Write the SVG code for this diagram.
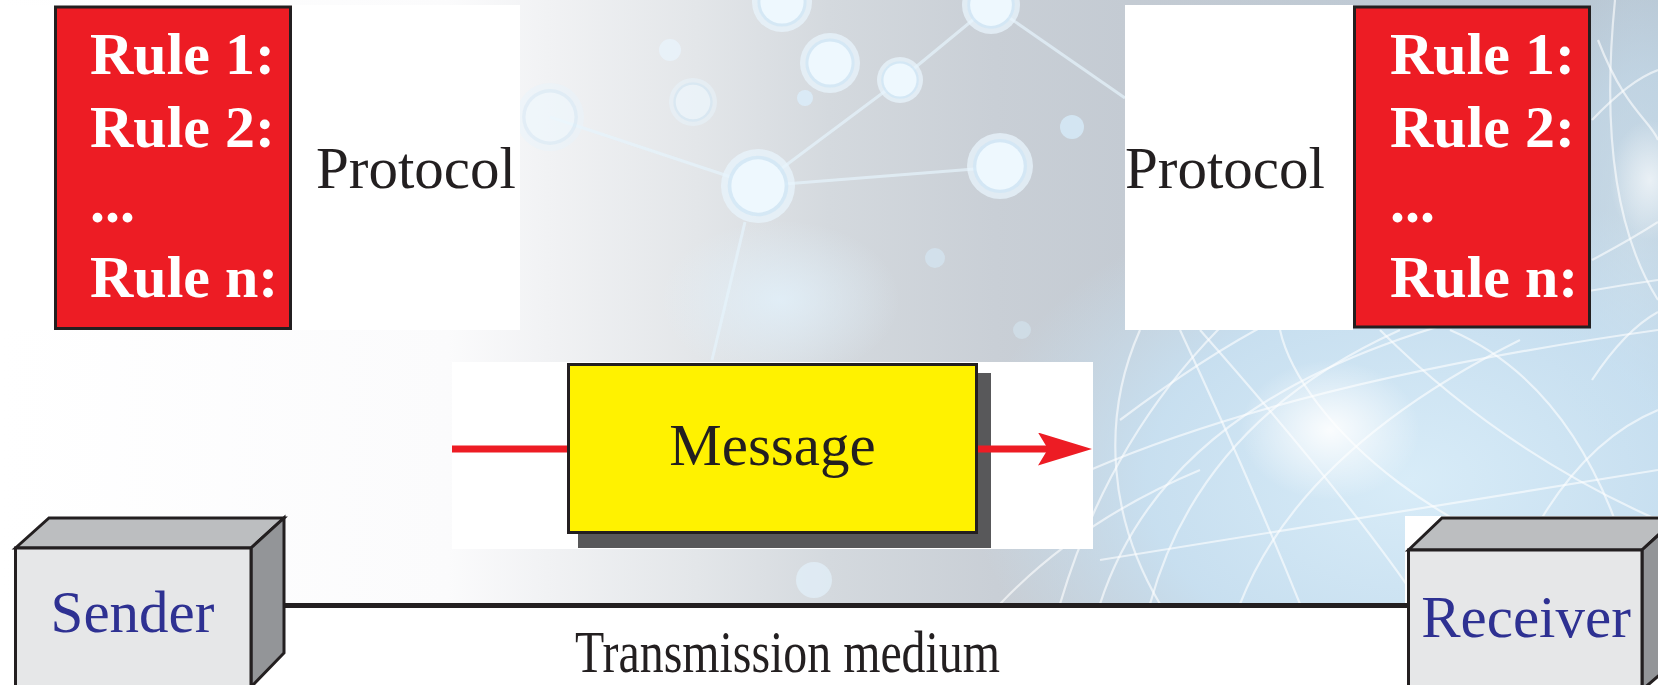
<svg xmlns="http://www.w3.org/2000/svg" width="1658" height="685" viewBox="0 0 1658 685">
  <style>
    .rule { font-family: "Liberation Serif", "Times New Roman", serif; font-weight: bold; font-size: 60px; fill: #ffffff; }
    .lbl { font-family: "Liberation Serif", "Times New Roman", serif; font-size: 59px; fill: #231f20; }
    .dev { font-family: "Liberation Serif", "Times New Roman", serif; font-size: 59px; fill: #2e3192; text-anchor: middle; }
    .panel { fill: #ffffff; }
    .edge { stroke: #231f20; stroke-width: 3; stroke-linejoin: miter; }
    .rulebox { fill: #ed1c24; stroke: #231f20; stroke-width: 3; }
    .wire { stroke: #ed1c24; stroke-width: 7; fill: none; }
    .strand { fill: none; stroke: #ffffff; stroke-width: 2.2; stroke-opacity: 0.6; }
    .halo { fill: #e8f4fc; opacity: 0.75; }
    .gap { fill: #cfe5f5; opacity: 0.7; }
    .core { fill: #eef8fe; }
    .link { stroke: #e6f3fc; stroke-width: 3; stroke-opacity: 0.7; fill: none; }
  </style>
  <defs>
    <linearGradient id="bgH" x1="0" y1="0" x2="1658" y2="0" gradientUnits="userSpaceOnUse">
      <stop offset="0" stop-color="#ffffff"/>
      <stop offset="0.27" stop-color="#fbfbfc"/>
      <stop offset="0.33" stop-color="#f1f2f4"/>
      <stop offset="0.42" stop-color="#e3e6e9"/>
      <stop offset="0.5" stop-color="#d4d9de"/>
      <stop offset="0.6" stop-color="#c9cfd6"/>
      <stop offset="0.68" stop-color="#c4cbd3"/>
      <stop offset="1" stop-color="#b9c8d5"/>
    </linearGradient>
    <radialGradient id="blueGlow">
      <stop offset="0" stop-color="#d8ecf8" stop-opacity="1"/>
      <stop offset="0.6" stop-color="#c8e0f1" stop-opacity="0.95"/>
      <stop offset="1" stop-color="#c8e0f1" stop-opacity="0"/>
    </radialGradient>
    <radialGradient id="whiteGlow">
      <stop offset="0" stop-color="#ffffff" stop-opacity="0.9"/>
      <stop offset="1" stop-color="#ffffff" stop-opacity="0"/>
    </radialGradient>
    <radialGradient id="haze">
      <stop offset="0" stop-color="#e2f1fb" stop-opacity="0.8"/>
      <stop offset="1" stop-color="#e2f1fb" stop-opacity="0"/>
    </radialGradient>
    <clipPath id="bgClip">
      <rect x="0" y="0" width="1658" height="604"/>
    </clipPath>
    <marker id="head" markerUnits="userSpaceOnUse" markerWidth="56" markerHeight="34" refX="10" refY="16.5" orient="auto">
      <path d="M0,0 L54,16.5 L0,33 L10,16.5 Z" fill="#ed1c24"/>
    </marker>
    <!-- one network node: soft halo, thin ring gap, bright core -->
    <g id="node">
      <circle class="halo" r="1"/>
      <circle class="gap" r="0.82"/>
      <circle class="core" r="0.72"/>
    </g>
  </defs>

  <!-- backdrop: soft network texture behind the figure -->
  <g id="backdrop" clip-path="url(#bgClip)">
    <rect x="0" y="0" width="1658" height="604" fill="url(#bgH)"/>
    <ellipse cx="1410" cy="480" rx="440" ry="300" fill="url(#blueGlow)"/>
    <ellipse cx="1640" cy="220" rx="110" ry="240" fill="url(#blueGlow)" opacity="0.5"/>
    <ellipse cx="780" cy="300" rx="120" ry="80" fill="url(#haze)"/>
    <ellipse cx="1330" cy="430" rx="90" ry="70" fill="url(#whiteGlow)"/>
    <ellipse cx="1650" cy="180" rx="40" ry="60" fill="url(#whiteGlow)" opacity="0.7"/>

    <!-- network links and nodes -->
    <path class="link" d="M758,186 L900,80 L991,5"/>
    <path class="link" d="M991,5 L1125,98"/>
    <path class="link" d="M758,186 L550,117" stroke-opacity="0.4"/>
    <path class="link" d="M758,186 L1000,167" stroke-opacity="0.3"/>
    <path class="link" d="M745,222 L712,360" stroke-opacity="0.4"/>
    <use href="#node" transform="translate(758,186) scale(37)"/>
    <use href="#node" transform="translate(1000,166) scale(33)"/>
    <use href="#node" transform="translate(830,63) scale(30)"/>
    <use href="#node" transform="translate(900,80) scale(23)"/>
    <use href="#node" transform="translate(991,5) scale(29)"/>
    <use href="#node" transform="translate(782,2) scale(30)"/>
    <use href="#node" transform="translate(693,102) scale(24)" opacity="0.7"/>
    <use href="#node" transform="translate(550,117) scale(34)" opacity="0.6"/>
    <circle cx="1072" cy="127" r="12" fill="#d6ebf9" opacity="0.8"/>
    <circle cx="805" cy="98" r="8" fill="#dbeefb" opacity="0.8"/>
    <circle cx="670" cy="50" r="11" fill="#e8f3fb" opacity="0.8"/>
    <circle cx="935" cy="258" r="10" fill="#d6e9f6" opacity="0.6"/>
    <circle cx="1022" cy="330" r="9" fill="#d6e9f6" opacity="0.5"/>
    <circle cx="814" cy="580" r="18" fill="#e3f1fb" opacity="0.7"/>

    <!-- light strands on the right -->
    <path class="strand" d="M1060,604 Q1150,300 1460,170"/>
    <path class="strand" d="M1100,604 C1150,450 1300,330 1658,280"/>
    <path class="strand" d="M1200,330 Q1350,500 1420,604"/>
    <path class="strand" d="M1280,330 C1300,420 1450,560 1658,590"/>
    <path class="strand" d="M1090,470 Q1300,380 1658,330"/>
    <path class="strand" d="M1150,604 Q1200,420 1400,330"/>
    <path class="strand" d="M1300,604 Q1250,480 1180,330"/>
    <path class="strand" d="M1500,604 Q1560,450 1658,410"/>
    <path class="strand" d="M1100,560 Q1350,520 1658,470"/>
    <path class="strand" d="M1380,330 Q1500,450 1658,520"/>
    <path class="strand" d="M1450,330 C1520,360 1600,430 1640,604"/>
    <path class="strand" d="M1120,420 Q1240,330 1320,300"/>
    <path class="strand" d="M1140,330 C1100,420 1110,520 1160,604"/>
    <path class="strand" d="M1615,0 Q1595,200 1658,300"/>
    <path class="strand" d="M1598,40 C1625,110 1650,120 1658,140"/>
    <path class="strand" d="M1592,260 Q1630,240 1658,222"/>
    <path class="strand" d="M1592,380 Q1625,330 1658,312"/>
    <path class="strand" d="M1592,120 Q1630,80 1658,70"/>
    <path class="strand" d="M1240,604 Q1300,450 1520,340"/>
    <path class="strand" d="M1000,604 Q1080,520 1200,470" stroke-opacity="0.4"/>
  </g>

  <!-- white plates behind the labelled parts -->
  <rect class="panel" x="0" y="5" width="520" height="325"/>
  <rect class="panel" x="1125" y="5" width="228" height="325"/>
  <rect class="panel" x="452" y="362" width="641" height="187"/>
  <rect class="panel" x="1405" y="516" width="253" height="169"/>
  <rect class="panel" x="0" y="604" width="1658" height="81"/>

  <!-- sender-side protocol -->
  <g id="protocol-left">
    <rect class="rulebox" x="55.5" y="7" width="235" height="321.5"/>
    <text class="rule" x="90" y="74">Rule 1:</text>
    <text class="rule" x="90" y="147">Rule 2:</text>
    <text class="rule" x="90" y="222">...</text>
    <text class="rule" x="90" y="297">Rule n:</text>
    <text class="lbl" x="316" y="188">Protocol</text>
  </g>

  <!-- receiver-side protocol -->
  <g id="protocol-right">
    <rect class="rulebox" x="1354.5" y="7" width="235" height="320"/>
    <text class="rule" x="1390" y="74">Rule 1:</text>
    <text class="rule" x="1390" y="147">Rule 2:</text>
    <text class="rule" x="1390" y="222">...</text>
    <text class="rule" x="1390" y="297">Rule n:</text>
    <text class="lbl" x="1125" y="188">Protocol</text>
  </g>

  <!-- message block -->
  <g id="message">
    <rect x="578" y="373" width="413" height="175" fill="#58585a"/>
    <rect x="568.5" y="364.5" width="408" height="168" fill="#fff200" class="edge"/>
    <text class="lbl" x="772.5" y="465" text-anchor="middle" font-size="58">Message</text>
  </g>

  <!-- sender device -->
  <g id="sender">
    <polygon points="15.5,548 49,518 284,518 251,548" fill="#bcbec0" class="edge"/>
    <polygon points="251,548 284,518 284,653 251,687" fill="#939598" class="edge"/>
    <rect x="15.5" y="548" width="235.5" height="140" fill="#e6e7e8" class="edge"/>
    <text class="dev" x="132.5" y="632">Sender</text>
  </g>

  <!-- receiver device -->
  <g id="receiver">
    <polygon points="1408.5,550 1442,518 1677,518 1642,550" fill="#bcbec0" class="edge"/>
    <polygon points="1642,550 1677,518 1677,660 1642,690" fill="#939598" class="edge"/>
    <rect x="1408.5" y="550" width="233.5" height="140" fill="#e6e7e8" class="edge"/>
    <text class="dev" x="1526" y="637">Receiver</text>
  </g>

  <!-- connectors: message flow and the link between devices -->
  <g id="connectors">
    <line class="wire" x1="452" y1="449" x2="567" y2="449"/>
    <line class="wire" x1="978" y1="449" x2="1048" y2="449" marker-end="url(#head)"/>
    <line x1="285" y1="605.5" x2="1407" y2="605.5" stroke="#231f20" stroke-width="5"/>
  </g>

  <text class="lbl" x="575" y="672" font-size="58" textLength="425" lengthAdjust="spacingAndGlyphs">Transmission medium</text>
</svg>
